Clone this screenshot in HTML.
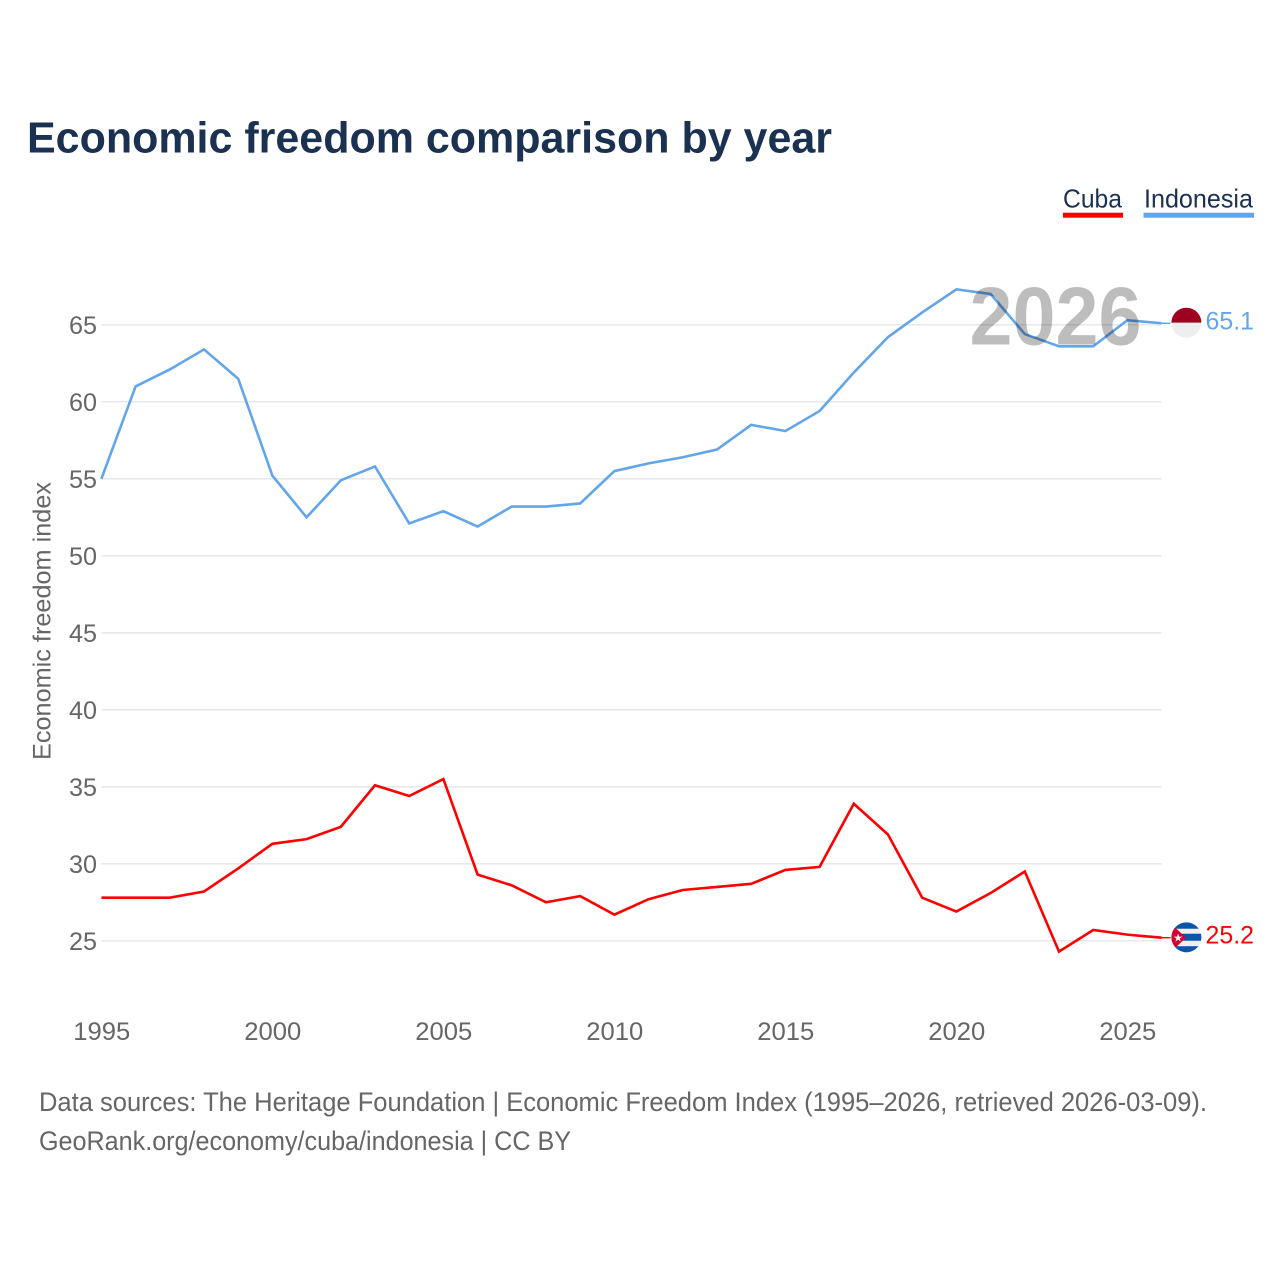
<!DOCTYPE html>
<html lang="en">
<head>
<meta charset="utf-8">
<title>Economic freedom comparison by year</title>
<style>
html,body{margin:0;padding:0;background:#fff;}
svg{display:block;}
text{font-family:"Liberation Sans",sans-serif;}
</style>
</head>
<body>
<svg id="chart" width="1280" height="1280" viewBox="0 0 1280 1280" xmlns="http://www.w3.org/2000/svg">
  <rect width="1280" height="1280" fill="#fff"/>
  <text x="27" y="152.5" font-size="44" font-weight="700" fill="#1a3151" textLength="805" lengthAdjust="spacingAndGlyphs">Economic freedom comparison by year</text>

  <g>
    <g>
      <text x="1063" y="207.5" font-size="26" fill="#1a3151" textLength="59" lengthAdjust="spacingAndGlyphs">Cuba</text>
      <rect x="1063" y="212.7" width="60" height="5" fill="#ff0000"/>
    </g>
    <g>
      <text x="1144" y="207.5" font-size="26" fill="#1a3151" textLength="109" lengthAdjust="spacingAndGlyphs">Indonesia</text>
      <rect x="1143.5" y="212.7" width="110.5" height="5" fill="#62a5ea"/>
    </g>
  </g>

  <g id="grid"></g>
  <g id="yticks"></g>
  <g id="xticks"></g>
  <text transform="translate(50.5,621) rotate(-90)" text-anchor="middle" font-size="25" fill="#666" textLength="278" lengthAdjust="spacingAndGlyphs">Economic freedom index</text>
  <g id="series"></g>
  <text id="year-label" x="969.5" y="344.5" font-size="83" font-weight="700" fill="#000" fill-opacity="0.26" textLength="172" lengthAdjust="spacingAndGlyphs">2026</text>
  <g id="ends"></g>

  <text x="39" y="1111" font-size="27" fill="#666" textLength="1168" lengthAdjust="spacingAndGlyphs">Data sources: The Heritage Foundation | Economic Freedom Index (1995–2026, retrieved 2026-03-09).</text>
  <text x="39" y="1150" font-size="27" fill="#666" textLength="532" lengthAdjust="spacingAndGlyphs">GeoRank.org/economy/cuba/indonesia | CC BY</text>
</svg>
<script>
const years = [1995,1996,1997,1998,1999,2000,2001,2002,2003,2004,2005,2006,2007,2008,2009,2010,2011,2012,2013,2014,2015,2016,2017,2018,2019,2020,2021,2022,2023,2024,2025,2026];
const cubaValues = [27.8,27.8,27.8,28.2,29.7,31.3,31.6,32.4,35.1,34.4,35.5,29.3,28.6,27.5,27.9,26.7,27.7,28.3,28.5,28.7,29.6,29.8,33.9,31.9,27.8,26.9,28.1,29.5,24.3,25.7,25.4,25.2];
const indonesiaValues = [55.0,61.0,62.1,63.4,61.5,55.2,52.5,54.9,55.8,52.1,52.9,51.9,53.2,53.2,53.4,55.5,56.0,56.4,56.9,58.5,58.1,59.4,61.9,64.2,65.8,67.3,67.0,64.4,63.6,63.6,65.3,65.1];
const yTickLabels = [25,30,35,40,45,50,55,60,65];
const xTickLabels = [1995,2000,2005,2010,2015,2020,2025];

const NS = 'http://www.w3.org/2000/svg';
const xScale = function (year) { return 101.4 + (year - 1995) * 34.2; };
const yScale = function (value) { return 940.8 - (value - 25) * 15.4; };
const plotRight = xScale(2026);

function make(tag, attrs, parent) {
  const el = document.createElementNS(NS, tag);
  for (const k in attrs) el.setAttribute(k, attrs[k]);
  parent.appendChild(el);
  return el;
}

const grid = document.getElementById('grid');
const yticks = document.getElementById('yticks');
const xticks = document.getElementById('xticks');
const series = document.getElementById('series');
const ends = document.getElementById('ends');

yTickLabels.forEach(function (v) {
  const line = make('line', {x1: 101.4, x2: plotRight, y1: yScale(v), y2: yScale(v), stroke: '#e9e9ec', 'stroke-width': 1.6}, grid);
  
  
  const t = make('text', {x: 97, y: yScale(v) + 9.2, 'text-anchor': 'end', 'font-size': 25, fill: '#666', textLength: 28, lengthAdjust: 'spacingAndGlyphs'}, yticks);
  
  
  t.textContent = v;
});

xTickLabels.forEach(function (y) {
  const t = make('text', {x: xScale(y) + 0.4, y: 1040, 'text-anchor': 'middle', 'font-size': 25, fill: '#666', textLength: 57, lengthAdjust: 'spacingAndGlyphs'}, xticks);
  
  
  t.textContent = y;
});

function drawSeries(values, color, name) {
  const pts = values.map(function (v, i) { return xScale(years[i]) + ',' + yScale(v); }).join(' ');
  const line = make('polyline', {points: pts, fill: 'none', stroke: color, 'stroke-width': 2.6, 'stroke-linejoin': 'miter'}, series);
  
  
  const lastY = yScale(values[values.length - 1]);
  const conn = make('line', {x1: plotRight, x2: plotRight + 9, y1: lastY, y2: lastY, stroke: color, 'stroke-width': 1.4}, series);
  
  
  return lastY;
}

const cubaEndY = drawSeries(cubaValues, '#ff0000', 'cuba');
const indoEndY = drawSeries(indonesiaValues, '#62a5ea', 'indonesia');

const defs = make('defs', {}, ends);
const cpIndo = make('clipPath', {id: 'clip-indo'}, defs);
make('circle', {cx: 1186.4, cy: indoEndY - 0.5, r: 15}, cpIndo);
const cpCuba = make('clipPath', {id: 'clip-cuba'}, defs);
make('circle', {cx: 1186.4, cy: cubaEndY - 0.4, r: 15}, cpCuba);

const indoFlag = make('g', {'clip-path': 'url(#clip-indo)'}, ends);


make('rect', {x: 1171, y: indoEndY - 16, width: 31, height: 15.5, fill: '#a0001f'}, indoFlag);
make('rect', {x: 1171, y: indoEndY - 0.5, width: 31, height: 16, fill: '#eeeeee'}, indoFlag);

const cubaFlag = make('g', {'clip-path': 'url(#clip-cuba)'}, ends);


make('rect', {x: 1171, y: cubaEndY - 16, width: 31, height: 32, fill: '#eeeeee'}, cubaFlag);
[-16, -4, 8.5].forEach(function (o) {
  make('rect', {x: 1171, y: cubaEndY + o, width: 31, height: 7, fill: '#0a55ad'}, cubaFlag);
});
make('polygon', {points: '1171,' + (cubaEndY - 14) + ' 1186,' + cubaEndY + ' 1171,' + (cubaEndY + 14), fill: '#d4002f'}, cubaFlag);
const star = make('text', {x: 1178, y: cubaEndY + 4, 'text-anchor': 'middle', 'font-size': 11, fill: '#f5f5f5', 'font-family': 'DejaVu Sans'}, cubaFlag);


star.textContent = '★';

function endLabel(value, y, color, name) {
  const t = make('text', {x: 1205.5, y: y + 6, 'font-size': 25, fill: color, textLength: 48.5, lengthAdjust: 'spacingAndGlyphs'}, ends);
  
  
  t.textContent = value.toFixed(1);
}
endLabel(cubaValues[cubaValues.length - 1], cubaEndY, '#ff0000', 'cuba');
endLabel(indonesiaValues[indonesiaValues.length - 1], indoEndY, '#62a5ea', 'indonesia');
document.getElementById('year-label').textContent = years[years.length - 1];
</script>
</body>
</html>
